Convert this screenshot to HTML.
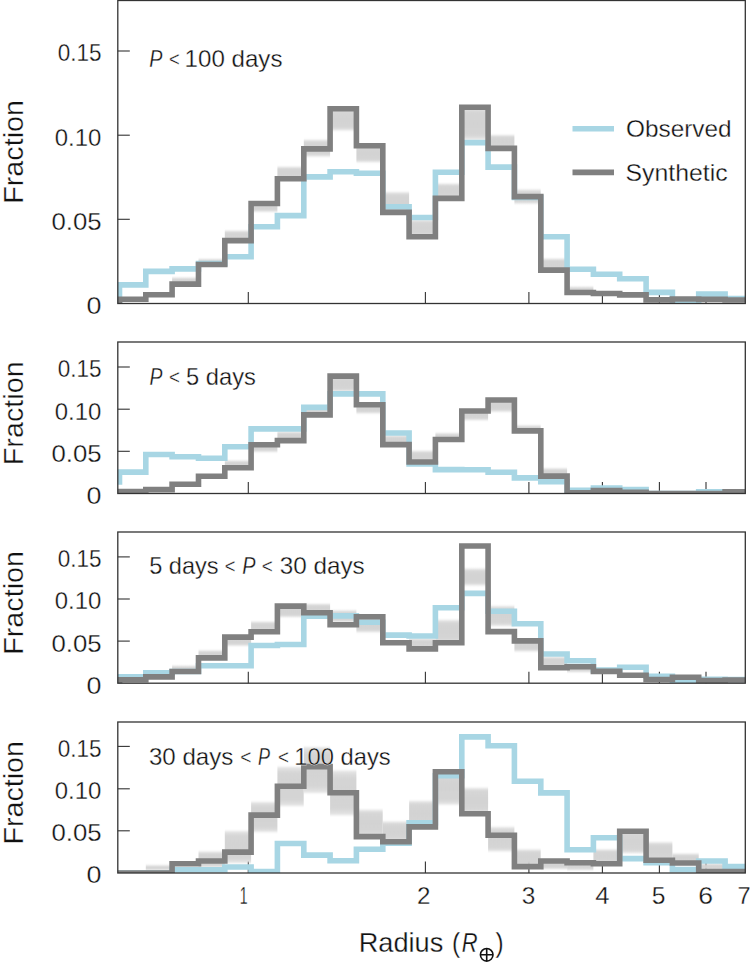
<!DOCTYPE html><html><head><meta charset="utf-8"><style>html,body{margin:0;padding:0;background:#fff;width:750px;height:962px;overflow:hidden}svg{display:block}text{font-family:"Liberation Sans",sans-serif;fill:#111;stroke:#fff;stroke-width:0.3px}</style></head><body>
<svg width="750" height="962" viewBox="0 0 750 962">
<defs><filter id="bl" x="-5%" y="-50%" width="110%" height="200%"><feGaussianBlur stdDeviation="0 1.0"/></filter>
<linearGradient id="bg" x1="0" y1="0" x2="0" y2="1"><stop offset="0" stop-color="#d3d3d3" stop-opacity="0.55"/><stop offset="0.15" stop-color="#d3d3d3" stop-opacity="0.95"/><stop offset="0.5" stop-color="#d3d3d3" stop-opacity="1"/><stop offset="0.85" stop-color="#d3d3d3" stop-opacity="0.95"/><stop offset="1" stop-color="#d3d3d3" stop-opacity="0.55"/></linearGradient>
<clipPath id="c0"><rect x="117.8" y="0.5" width="627.5" height="303.0"/></clipPath>
<clipPath id="c1"><rect x="117.8" y="342" width="627.5" height="151.5"/></clipPath>
<clipPath id="c2"><rect x="117.8" y="532" width="627.5" height="151.20000000000005"/></clipPath>
<clipPath id="c3"><rect x="117.8" y="722" width="627.5" height="151"/></clipPath>
</defs>
<rect width="750" height="962" fill="#fff"/>
<line x1="248.3" y1="303.5" x2="248.3" y2="292.0" stroke="#333333" stroke-width="1.1"/>
<line x1="425.4" y1="303.5" x2="425.4" y2="292.0" stroke="#333333" stroke-width="1.1"/>
<line x1="528.9" y1="303.5" x2="528.9" y2="292.0" stroke="#333333" stroke-width="1.1"/>
<line x1="602.4" y1="303.5" x2="602.4" y2="292.0" stroke="#333333" stroke-width="1.1"/>
<line x1="659.4" y1="303.5" x2="659.4" y2="292.0" stroke="#333333" stroke-width="1.1"/>
<line x1="706.0" y1="303.5" x2="706.0" y2="292.0" stroke="#333333" stroke-width="1.1"/>
<g clip-path="url(#c0)">
<g filter="url(#bl)" fill="url(#bg)">
<rect x="172.1" y="277.7" width="26.3" height="6.3"/>
<rect x="198.5" y="259.1" width="26.3" height="5.4"/>
<rect x="224.8" y="230.7" width="26.3" height="9.3"/>
<rect x="251.1" y="203.5" width="26.3" height="8.2"/>
<rect x="277.4" y="166.9" width="26.3" height="11.9"/>
<rect x="303.8" y="139.8" width="26.3" height="16.8"/>
<rect x="330.1" y="108.8" width="26.3" height="21.7"/>
<rect x="356.4" y="145.7" width="26.3" height="16.5"/>
<rect x="382.8" y="192.1" width="26.3" height="19.9"/>
<rect x="409.1" y="220.0" width="26.3" height="16.0"/>
<rect x="435.4" y="183.7" width="26.3" height="14.3"/>
<rect x="461.8" y="107.3" width="26.3" height="32.5"/>
<rect x="488.1" y="135.1" width="26.3" height="12.9"/>
<rect x="514.4" y="189.6" width="26.3" height="14.0"/>
<rect x="540.8" y="258.7" width="26.3" height="11.3"/>
<rect x="567.1" y="287.0" width="26.3" height="5.0"/>
</g>
<path d="M119.5,313.5V284.9H145.8V271.4H172.1V268.9H198.5V263.5H224.8V256.7H251.1V226.8H277.4V215.6H303.8V176.9H330.1V171.7H356.4V173.2H382.8V206.8H409.1V217.5H435.4V172.3H461.8V142.6H488.1V167.1H514.4V197.5H540.8V236.7H567.1V269.3H593.4V274.3H619.7V278.8H646.1V292.4H672.4V301.5H698.7V294.1H725.1V298.5H751.4V313.5" fill="none" stroke="#a8d6e4" stroke-width="5.6"/>
<path d="M119.5,313.5V299.2H145.8V294.8H172.1V284.1H198.5V264.5H224.8V240.6H251.1V203.5H277.4V178.8H303.8V148.9H330.1V108.8H356.4V145.7H382.8V212.4H409.1V236.7H435.4V198.4H461.8V107.3H488.1V148.4H514.4V196.6H540.8V270.1H567.1V292.5H593.4V293.5H619.7V294.9H646.1V299.9H672.4V299.0H698.7V299.4H725.1V300.0H751.4V313.5" fill="none" stroke="#808080" stroke-width="5.6"/>
</g>
<rect x="117.8" y="0.5" width="627.5" height="303.0" fill="none" stroke="#333333" stroke-width="1.3"/>
<line x1="117.8" y1="51" x2="129.8" y2="51" stroke="#333333" stroke-width="1.1"/>
<line x1="117.8" y1="135.2" x2="129.8" y2="135.2" stroke="#333333" stroke-width="1.1"/>
<line x1="117.8" y1="219.3" x2="129.8" y2="219.3" stroke="#333333" stroke-width="1.1"/>
<line x1="248.3" y1="493.5" x2="248.3" y2="482.0" stroke="#333333" stroke-width="1.1"/>
<line x1="425.4" y1="493.5" x2="425.4" y2="482.0" stroke="#333333" stroke-width="1.1"/>
<line x1="528.9" y1="493.5" x2="528.9" y2="482.0" stroke="#333333" stroke-width="1.1"/>
<line x1="602.4" y1="493.5" x2="602.4" y2="482.0" stroke="#333333" stroke-width="1.1"/>
<line x1="659.4" y1="493.5" x2="659.4" y2="482.0" stroke="#333333" stroke-width="1.1"/>
<line x1="706.0" y1="493.5" x2="706.0" y2="482.0" stroke="#333333" stroke-width="1.1"/>
<g clip-path="url(#c1)">
<g filter="url(#bl)" fill="url(#bg)">
<rect x="224.8" y="460.7" width="26.3" height="6.3"/>
<rect x="251.1" y="444.7" width="26.3" height="7.1"/>
<rect x="277.4" y="431.9" width="26.3" height="8.1"/>
<rect x="303.8" y="409.0" width="26.3" height="5.0"/>
<rect x="330.1" y="376.1" width="26.3" height="15.3"/>
<rect x="356.4" y="404.8" width="26.3" height="8.4"/>
<rect x="382.8" y="435.6" width="26.3" height="8.4"/>
<rect x="409.1" y="450.9" width="26.3" height="11.1"/>
<rect x="435.4" y="433.2" width="26.3" height="6.3"/>
<rect x="461.8" y="411.0" width="26.3" height="9.1"/>
<rect x="488.1" y="400.0" width="26.3" height="11.7"/>
<rect x="514.4" y="425.5" width="26.3" height="5.5"/>
<rect x="540.8" y="468.4" width="26.3" height="7.6"/>
</g>
<path d="M89.5,481.9H119.5V472.1H145.8V454.5H172.1V456.7H198.5V458.3H224.8V446.8H251.1V428.9H277.4V428.9H303.8V407.4H330.1V393.9H356.4V393.9H382.8V433.0H409.1V464.0H435.4V469.6H461.8V469.8H488.1V472.2H514.4V477.9H540.8V481.8H567.1V490.3H593.4V488.0H619.7V489.5H646.1V493.5H672.4V493.5H698.7V491.9H725.1V493.5H751.4V503.5" fill="none" stroke="#a8d6e4" stroke-width="5.6"/>
<path d="M119.5,503.5V491.5H145.8V489.6H172.1V484.2H198.5V476.3H224.8V467.7H251.1V444.7H277.4V440.6H303.8V414.9H330.1V376.1H356.4V404.8H382.8V444.6H409.1V462.0H435.4V439.5H461.8V411.0H488.1V400.0H514.4V430.9H540.8V476.1H567.1V492.7H593.4V490.6H619.7V492.3H646.1V493.5H672.4V493.5H698.7V493.5H725.1V491.9H751.4V503.5" fill="none" stroke="#808080" stroke-width="5.6"/>
</g>
<rect x="117.8" y="342" width="627.5" height="151.5" fill="none" stroke="#333333" stroke-width="1.3"/>
<line x1="117.8" y1="367" x2="129.8" y2="367" stroke="#333333" stroke-width="1.1"/>
<line x1="117.8" y1="409.2" x2="129.8" y2="409.2" stroke="#333333" stroke-width="1.1"/>
<line x1="117.8" y1="451.3" x2="129.8" y2="451.3" stroke="#333333" stroke-width="1.1"/>
<line x1="248.3" y1="683.2" x2="248.3" y2="671.7" stroke="#333333" stroke-width="1.1"/>
<line x1="425.4" y1="683.2" x2="425.4" y2="671.7" stroke="#333333" stroke-width="1.1"/>
<line x1="528.9" y1="683.2" x2="528.9" y2="671.7" stroke="#333333" stroke-width="1.1"/>
<line x1="602.4" y1="683.2" x2="602.4" y2="671.7" stroke="#333333" stroke-width="1.1"/>
<line x1="659.4" y1="683.2" x2="659.4" y2="671.7" stroke="#333333" stroke-width="1.1"/>
<line x1="706.0" y1="683.2" x2="706.0" y2="671.7" stroke="#333333" stroke-width="1.1"/>
<g clip-path="url(#c2)">
<g filter="url(#bl)" fill="url(#bg)">
<rect x="172.1" y="665.9" width="26.3" height="5.1"/>
<rect x="198.5" y="650.6" width="26.3" height="6.4"/>
<rect x="224.8" y="637.0" width="26.3" height="8.7"/>
<rect x="251.1" y="621.7" width="26.3" height="9.3"/>
<rect x="277.4" y="606.0" width="26.3" height="11.0"/>
<rect x="303.8" y="604.0" width="26.3" height="8.0"/>
<rect x="330.1" y="610.4" width="26.3" height="11.6"/>
<rect x="356.4" y="617.0" width="26.3" height="15.2"/>
<rect x="409.1" y="638.6" width="26.3" height="9.4"/>
<rect x="435.4" y="620.0" width="26.3" height="22.0"/>
<rect x="461.8" y="568.6" width="26.3" height="16.8"/>
<rect x="488.1" y="606.0" width="26.3" height="20.0"/>
<rect x="514.4" y="641.0" width="26.3" height="10.3"/>
<rect x="540.8" y="657.0" width="26.3" height="10.0"/>
<rect x="567.1" y="666.0" width="26.3" height="6.0"/>
</g>
<path d="M119.5,693.2V676.7H145.8V672.8H172.1V671.5H198.5V665.7H224.8V665.7H251.1V645.5H277.4V644.5H303.8V616.2H330.1V615.9H356.4V622.3H382.8V635.1H409.1V636.0H435.4V607.8H461.8V593.4H488.1V611.3H514.4V623.8H540.8V654.0H567.1V660.7H593.4V670.0H619.7V667.2H646.1V676.2H672.4V680.5H698.7V679.3H725.1V679.5H751.4V693.2" fill="none" stroke="#a8d6e4" stroke-width="5.6"/>
<path d="M119.5,693.2V679.7H145.8V676.9H172.1V671.5H198.5V657.9H224.8V637.1H251.1V631.8H277.4V606.1H303.8V612.8H330.1V624.8H356.4V616.8H382.8V642.8H409.1V648.9H435.4V642.8H461.8V546.0H488.1V631.6H514.4V640.9H540.8V667.7H567.1V666.7H593.4V671.4H619.7V675.2H646.1V679.5H672.4V677.2H698.7V680.5H725.1V680.0H751.4V693.2" fill="none" stroke="#808080" stroke-width="5.6"/>
</g>
<rect x="117.8" y="532" width="627.5" height="151.20000000000005" fill="none" stroke="#333333" stroke-width="1.3"/>
<line x1="117.8" y1="556.9" x2="129.8" y2="556.9" stroke="#333333" stroke-width="1.1"/>
<line x1="117.8" y1="599" x2="129.8" y2="599" stroke="#333333" stroke-width="1.1"/>
<line x1="117.8" y1="641.1" x2="129.8" y2="641.1" stroke="#333333" stroke-width="1.1"/>
<line x1="248.3" y1="873" x2="248.3" y2="861.5" stroke="#333333" stroke-width="1.1"/>
<line x1="425.4" y1="873" x2="425.4" y2="861.5" stroke="#333333" stroke-width="1.1"/>
<line x1="528.9" y1="873" x2="528.9" y2="861.5" stroke="#333333" stroke-width="1.1"/>
<line x1="602.4" y1="873" x2="602.4" y2="861.5" stroke="#333333" stroke-width="1.1"/>
<line x1="659.4" y1="873" x2="659.4" y2="861.5" stroke="#333333" stroke-width="1.1"/>
<line x1="706.0" y1="873" x2="706.0" y2="861.5" stroke="#333333" stroke-width="1.1"/>
<g clip-path="url(#c3)">
<g filter="url(#bl)" fill="url(#bg)">
<rect x="145.8" y="865.3" width="26.3" height="4.7"/>
<rect x="198.5" y="851.5" width="26.3" height="15.9"/>
<rect x="224.8" y="831.0" width="26.3" height="32.0"/>
<rect x="251.1" y="802.0" width="26.3" height="30.0"/>
<rect x="277.4" y="766.8" width="26.3" height="39.2"/>
<rect x="303.8" y="747.0" width="26.3" height="46.0"/>
<rect x="330.1" y="770.5" width="26.3" height="44.8"/>
<rect x="356.4" y="809.7" width="26.3" height="26.3"/>
<rect x="382.8" y="821.5" width="26.3" height="19.5"/>
<rect x="409.1" y="801.0" width="26.3" height="25.0"/>
<rect x="435.4" y="771.8" width="26.3" height="32.9"/>
<rect x="461.8" y="787.9" width="26.3" height="25.1"/>
<rect x="488.1" y="827.0" width="26.3" height="24.3"/>
<rect x="514.4" y="849.5" width="26.3" height="16.5"/>
<rect x="540.8" y="861.0" width="26.3" height="8.0"/>
<rect x="567.1" y="862.0" width="26.3" height="8.0"/>
<rect x="593.4" y="849.5" width="26.3" height="13.5"/>
<rect x="619.7" y="831.0" width="26.3" height="22.2"/>
<rect x="646.1" y="842.2" width="26.3" height="17.8"/>
<rect x="672.4" y="853.7" width="26.3" height="9.3"/>
<rect x="698.7" y="863.7" width="26.3" height="6.3"/>
</g>
<path d="M119.5,883.0V873.0H145.8V873.0H172.1V869.7H198.5V869.7H224.8V867.0H251.1V871.5H277.4V843.5H303.8V855.1H330.1V860.7H356.4V849.3H382.8V843.3H409.1V822.8H435.4V775.7H461.8V736.9H488.1V745.7H514.4V781.3H540.8V792.9H567.1V849.7H593.4V837.8H619.7V858.6H646.1V862.6H672.4V869.6H698.7V861.0H725.1V866.6H751.4V883.0" fill="none" stroke="#a8d6e4" stroke-width="5.6"/>
<path d="M119.5,883.0V873.0H145.8V873.0H172.1V863.8H198.5V861.0H224.8V852.1H251.1V815.1H277.4V786.2H303.8V766.6H330.1V792.7H356.4V836.6H382.8V841.7H409.1V826.9H435.4V771.8H461.8V813.8H488.1V835.3H514.4V866.6H540.8V861.0H567.1V862.7H593.4V863.8H619.7V831.3H646.1V860.2H672.4V863.0H698.7V871.5H725.1V871.5H751.4V883.0" fill="none" stroke="#808080" stroke-width="5.6"/>
</g>
<rect x="117.8" y="722" width="627.5" height="151" fill="none" stroke="#333333" stroke-width="1.3"/>
<line x1="117.8" y1="746.4" x2="129.8" y2="746.4" stroke="#333333" stroke-width="1.1"/>
<line x1="117.8" y1="788.8" x2="129.8" y2="788.8" stroke="#333333" stroke-width="1.1"/>
<line x1="117.8" y1="830.8" x2="129.8" y2="830.8" stroke="#333333" stroke-width="1.1"/>
<text x="57.66" y="61.4" font-size="24" textLength="43.79" lengthAdjust="spacingAndGlyphs">0.15</text>
<text x="54.80" y="145.6" font-size="24" textLength="46.61" lengthAdjust="spacingAndGlyphs">0.10</text>
<text x="51.43" y="229.70000000000002" font-size="24" textLength="50.15" lengthAdjust="spacingAndGlyphs">0.05</text>
<text x="86.59" y="313.9" font-size="24" textLength="14.97" lengthAdjust="spacingAndGlyphs">0</text>
<text x="57.66" y="377.4" font-size="24" textLength="43.79" lengthAdjust="spacingAndGlyphs">0.15</text>
<text x="54.80" y="419.59999999999997" font-size="24" textLength="46.61" lengthAdjust="spacingAndGlyphs">0.10</text>
<text x="51.43" y="461.7" font-size="24" textLength="50.15" lengthAdjust="spacingAndGlyphs">0.05</text>
<text x="86.59" y="503.9" font-size="24" textLength="14.97" lengthAdjust="spacingAndGlyphs">0</text>
<text x="57.66" y="567.3" font-size="24" textLength="43.79" lengthAdjust="spacingAndGlyphs">0.15</text>
<text x="54.80" y="609.4" font-size="24" textLength="46.61" lengthAdjust="spacingAndGlyphs">0.10</text>
<text x="51.43" y="651.5" font-size="24" textLength="50.15" lengthAdjust="spacingAndGlyphs">0.05</text>
<text x="86.59" y="693.6" font-size="24" textLength="14.97" lengthAdjust="spacingAndGlyphs">0</text>
<text x="57.66" y="756.8" font-size="24" textLength="43.79" lengthAdjust="spacingAndGlyphs">0.15</text>
<text x="54.80" y="799.1999999999999" font-size="24" textLength="46.61" lengthAdjust="spacingAndGlyphs">0.10</text>
<text x="51.43" y="841.1999999999999" font-size="24" textLength="50.15" lengthAdjust="spacingAndGlyphs">0.05</text>
<text x="86.59" y="883.4" font-size="24" textLength="14.97" lengthAdjust="spacingAndGlyphs">0</text>
<text x="239.84" y="904" font-size="24" textLength="7.83" lengthAdjust="spacingAndGlyphs">1</text>
<text x="416.99" y="904" font-size="24" textLength="13.47" lengthAdjust="spacingAndGlyphs">2</text>
<text x="521.88" y="904" font-size="24" textLength="13.58" lengthAdjust="spacingAndGlyphs">3</text>
<text x="595.36" y="904" font-size="24" textLength="14.24" lengthAdjust="spacingAndGlyphs">4</text>
<text x="651.67" y="904" font-size="24" textLength="13.70" lengthAdjust="spacingAndGlyphs">5</text>
<text x="698.27" y="904" font-size="24" textLength="14.79" lengthAdjust="spacingAndGlyphs">6</text>
<text x="737.42" y="904" font-size="24" textLength="13.10" lengthAdjust="spacingAndGlyphs">7</text>
<text x="149.31" y="66.5" font-size="23.2" font-style="italic" textLength="13.14" lengthAdjust="spacingAndGlyphs">P</text>
<text x="169.05" y="65.5" font-size="19.3" textLength="10.67" lengthAdjust="spacingAndGlyphs">&lt;</text>
<text x="184.63" y="66.5" font-size="23.2" textLength="97.86" lengthAdjust="spacingAndGlyphs">100 days</text>
<text x="149.42" y="384.8" font-size="23.2" font-style="italic" textLength="12.93" lengthAdjust="spacingAndGlyphs">P</text>
<text x="169.03" y="383.8" font-size="19.3" textLength="10.91" lengthAdjust="spacingAndGlyphs">&lt;</text>
<text x="186.08" y="384.8" font-size="23.2" textLength="69.89" lengthAdjust="spacingAndGlyphs">5 days</text>
<text x="149.19" y="574.4" font-size="23.2" textLength="69.48" lengthAdjust="spacingAndGlyphs">5 days</text>
<text x="224.85" y="573.4" font-size="19.3" textLength="10.67" lengthAdjust="spacingAndGlyphs">&lt;</text>
<text x="242.30" y="574.4" font-size="23.2" font-style="italic" textLength="13.25" lengthAdjust="spacingAndGlyphs">P</text>
<text x="261.72" y="573.4" font-size="19.3" textLength="11.03" lengthAdjust="spacingAndGlyphs">&lt;</text>
<text x="279.66" y="574.4" font-size="23.2" textLength="85.04" lengthAdjust="spacingAndGlyphs">30 days</text>
<text x="148.96" y="764.5" font-size="23.2" textLength="84.43" lengthAdjust="spacingAndGlyphs">30 days</text>
<text x="240.21" y="763.5" font-size="19.3" textLength="11.15" lengthAdjust="spacingAndGlyphs">&lt;</text>
<text x="257.96" y="764.5" font-size="23.2" font-style="italic" textLength="11.98" lengthAdjust="spacingAndGlyphs">P</text>
<text x="277.93" y="763.5" font-size="19.3" textLength="10.91" lengthAdjust="spacingAndGlyphs">&lt;</text>
<text x="294.36" y="764.5" font-size="23.2" textLength="96.32" lengthAdjust="spacingAndGlyphs">100 days</text>
<text x="626.06" y="137.3" font-size="23.6" textLength="105.60" lengthAdjust="spacingAndGlyphs">Observed</text>
<text x="625.54" y="180.9" font-size="23.6" textLength="102.06" lengthAdjust="spacingAndGlyphs">Synthetic</text>
<text transform="translate(23,203.80) rotate(-90)" x="0" y="0" font-size="27.5" textLength="103.82" lengthAdjust="spacingAndGlyphs">Fraction</text>
<text transform="translate(23,465.20) rotate(-90)" x="0" y="0" font-size="27.5" textLength="103.82" lengthAdjust="spacingAndGlyphs">Fraction</text>
<text transform="translate(23,654.80) rotate(-90)" x="0" y="0" font-size="27.5" textLength="103.82" lengthAdjust="spacingAndGlyphs">Fraction</text>
<text transform="translate(23,844.60) rotate(-90)" x="0" y="0" font-size="27.5" textLength="103.61" lengthAdjust="spacingAndGlyphs">Fraction</text>
<text x="358.65" y="951.5" font-size="27.8" textLength="84.66" lengthAdjust="spacingAndGlyphs">Radius</text>
<text x="452.01" y="951.5" font-size="27.8" textLength="8.12" lengthAdjust="spacingAndGlyphs">(</text>
<text x="461.79" y="951.5" font-size="27.8" font-style="italic" textLength="15.80" lengthAdjust="spacingAndGlyphs">R</text>
<text x="495.42" y="951.5" font-size="27.8" textLength="8.12" lengthAdjust="spacingAndGlyphs">)</text>
<line x1="572.5" y1="128.7" x2="614" y2="128.7" stroke="#a8d6e4" stroke-width="5.6"/>
<line x1="572.5" y1="172.4" x2="614" y2="172.4" stroke="#808080" stroke-width="5.6"/>
<g fill="none" stroke="#111" stroke-width="1.6"><circle cx="486.7" cy="954.8" r="6.3"/><path d="M480.4,954.8H493M486.7,948.5V961.1"/></g>
</svg></body></html>
